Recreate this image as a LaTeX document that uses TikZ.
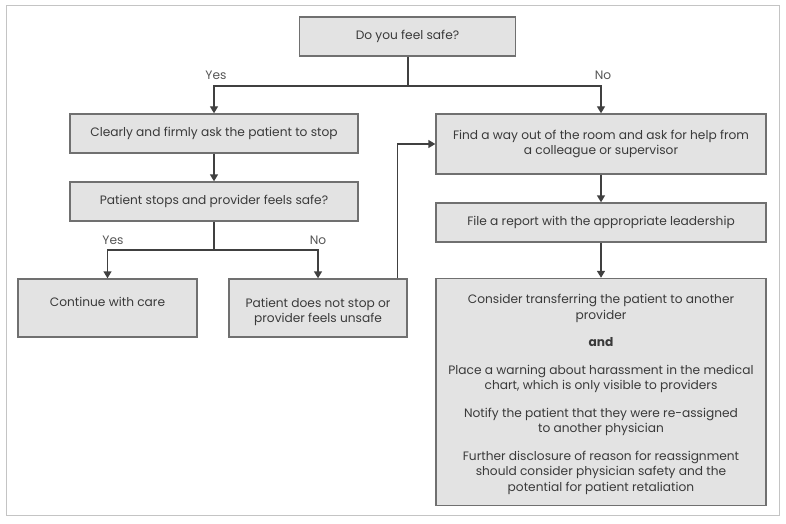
\documentclass[tikz,border=0pt]{standalone}
\usepackage{fontspec}
\setmainfont{Poppins}
\usetikzlibrary{arrows.meta,calc}
\definecolor{boxfill}{HTML}{E3E3E3}
\definecolor{boxline}{HTML}{707070}
\definecolor{txt}{HTML}{3A3A3A}
\definecolor{lbl}{HTML}{555555}
\definecolor{conn}{HTML}{404040}
\definecolor{frame}{HTML}{C4C4C4}
\tikzset{
  box/.style={draw=boxline, fill=boxfill, line width=1.4pt, inner sep=0pt, rectangle},
  txtnode/.style={text=txt, font=\fontsize{12.2}{15.5}\selectfont, align=center, inner sep=0pt},
  lab/.style={text=lbl, font=\fontsize{12.2}{14}\selectfont, inner sep=0pt},
  conline/.style={draw=conn, line width=1.4pt},
  arr/.style={conline, -{Triangle[width=8pt,length=7pt]}, shorten >=0pt}
}
\begin{document}
\begin{tikzpicture}[x=1pt,y=-1pt]
\useasboundingbox (0,0) rectangle (786,524);
\draw[frame, line width=1pt] (6,6) rectangle (779,515);

\node[box, minimum width=216pt, minimum height=39pt] (q1) at (407.5,36.5) {};
\node[txtnode] (q1t) at (q1.center) {Do you feel safe?};

\node[box, minimum width=288pt, minimum height=39pt] (b2) at (214,133.5) {};
\node[txtnode] (b2t) at (b2.center) {Clearly and firmly ask the patient to stop};

\node[box, minimum width=288pt, minimum height=39pt] (b3) at (214,201.5) {};
\node[txtnode] (b3t) at (b3.center) {Patient stops and provider feels safe?};

\node[box, minimum width=179pt, minimum height=58pt] (b4) at (107.5,308) {};
\node[txtnode] (b4t) at (107.5,302) {Continue with care};

\node[box, minimum width=178pt, minimum height=58pt] (b5) at (318,308) {};
\node[txtnode] (b5t) at (318,312) {Patient does not stop or\\provider feels unsafe};

\node[box, minimum width=330pt, minimum height=60pt] (b6) at (601,144) {};
\node[txtnode] (b6t) at (b6.center) {Find a way out of the room and ask for help from\\a colleague or supervisor};

\node[box, minimum width=330pt, minimum height=39pt] (b7) at (601,222.5) {};
\node[txtnode] (b7t) at (b7.center) {File a report with the appropriate leadership};

\node[box, minimum width=330pt, minimum height=227pt] (b8) at (601,392) {};
\node[txtnode] (b8t) at (601,394.5) {Consider transferring the patient to another\\provider\\[12pt]
\textbf{and}\\[12pt]
Place a warning about harassment in the medical\\chart, which is only visible to providers\\[12pt]
Notify the patient that they were re-assigned\\to another physician\\[12pt]
Further disclosure of reason for reassignment\\should consider physician safety and the\\potential for patient retaliation};

% connectors
\coordinate (j1) at (408,86);
\draw[conline] (q1.south -| j1) -- (j1);
\draw[arr] (j1) -| (b2.north);
\draw[arr] (j1) -| (b6.north);
\node[lab] (yes1) at (216,75) {Yes};
\node[lab] (no1) at (603,75) {No};

\draw[arr] (b2) -- (b3);

\coordinate (j2) at (214,250);
\draw[conline] (b3.south) -- (j2);
\draw[arr] (j2) -| (b4.north);
\draw[arr] (j2) -| (b5.north);
\node[lab] (yes2) at (113,240) {Yes};
\node[lab] (no2) at (318,240) {No};

\draw[arr] ($(b5.north east)+(-10,0)$) |- (b6.west);
\draw[arr] (b6) -- (b7);
\draw[arr] (b7) -- (b8);
\end{tikzpicture}
\end{document}
